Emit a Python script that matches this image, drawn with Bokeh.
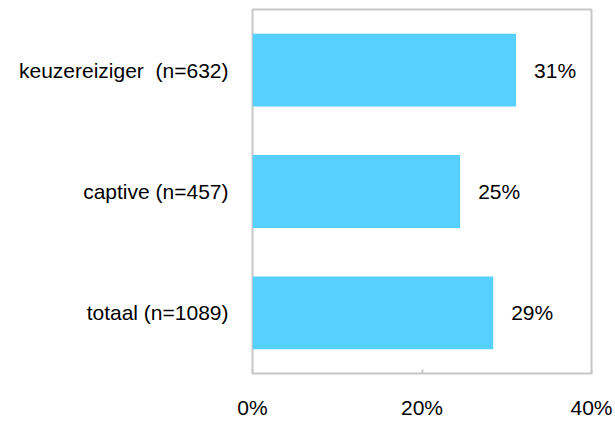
from bokeh.plotting import figure
from bokeh.models import ColumnDataSource, FactorRange, Range1d, FixedTicker
from bokeh.embed import file_html
from bokeh.resources import INLINE
from bokeh.core.properties import value

# data (bottom to top)
categories = ["totaal (n=1089)", "captive (n=457)", "keuzereiziger\u00a0 (n=632)"]
values = [28.4, 24.5, 31.1]
value_labels = ["29%", "25%", "31%"]
tick_values = [0, 20, 40]
tick_labels = ["0%", "20%", "40%"]

src = ColumnDataSource(dict(cat=categories, val=values, lab=value_labels))

p = figure(width=615, height=421, output_backend="svg", toolbar_location=None,
           y_range=FactorRange(*categories, range_padding=0),
           x_range=Range1d(0, 40),
           min_border_left=252, min_border_right=24, min_border_top=9,
           min_border_bottom=47)
p.background_fill_color = "white"
p.border_fill_color = "white"
p.outline_line_color = "#c8c8c8"
p.outline_line_width = 2

p.hbar(y="cat", right="val", left=0, height=0.6, source=src,
       fill_color="#55D0FF", line_color=None)
p.text(x="val", y="cat", text="lab", source=src, x_offset=18,
       text_baseline="middle", text_align="left", text_font_size="21px",
       text_font=value("Liberation Sans"), text_color="black")

p.xgrid.visible = False
p.ygrid.visible = False

xa = p.xaxis[0]
xa.ticker = FixedTicker(ticks=tick_values)
xa.major_label_overrides = {t: l for t, l in zip(tick_values, tick_labels)}
xa.axis_line_color = None
xa.major_tick_in = 4
xa.major_tick_out = 0
xa.major_tick_line_color = "#c8c8c8"
xa.major_tick_line_width = 2
xa.minor_tick_line_color = None
xa.major_label_standoff = 22
xa.major_label_text_font = "Liberation Sans"
xa.major_label_text_font_size = "21px"
xa.major_label_text_color = "black"

ya = p.yaxis[0]
ya.axis_line_color = None
ya.major_tick_line_color = None
ya.minor_tick_line_color = None
ya.major_label_standoff = 18
ya.major_label_text_font = "Liberation Sans"
ya.major_label_text_font_size = "21px"
ya.major_label_text_color = "black"

open("out.html", "w").write(file_html(p, INLINE))
